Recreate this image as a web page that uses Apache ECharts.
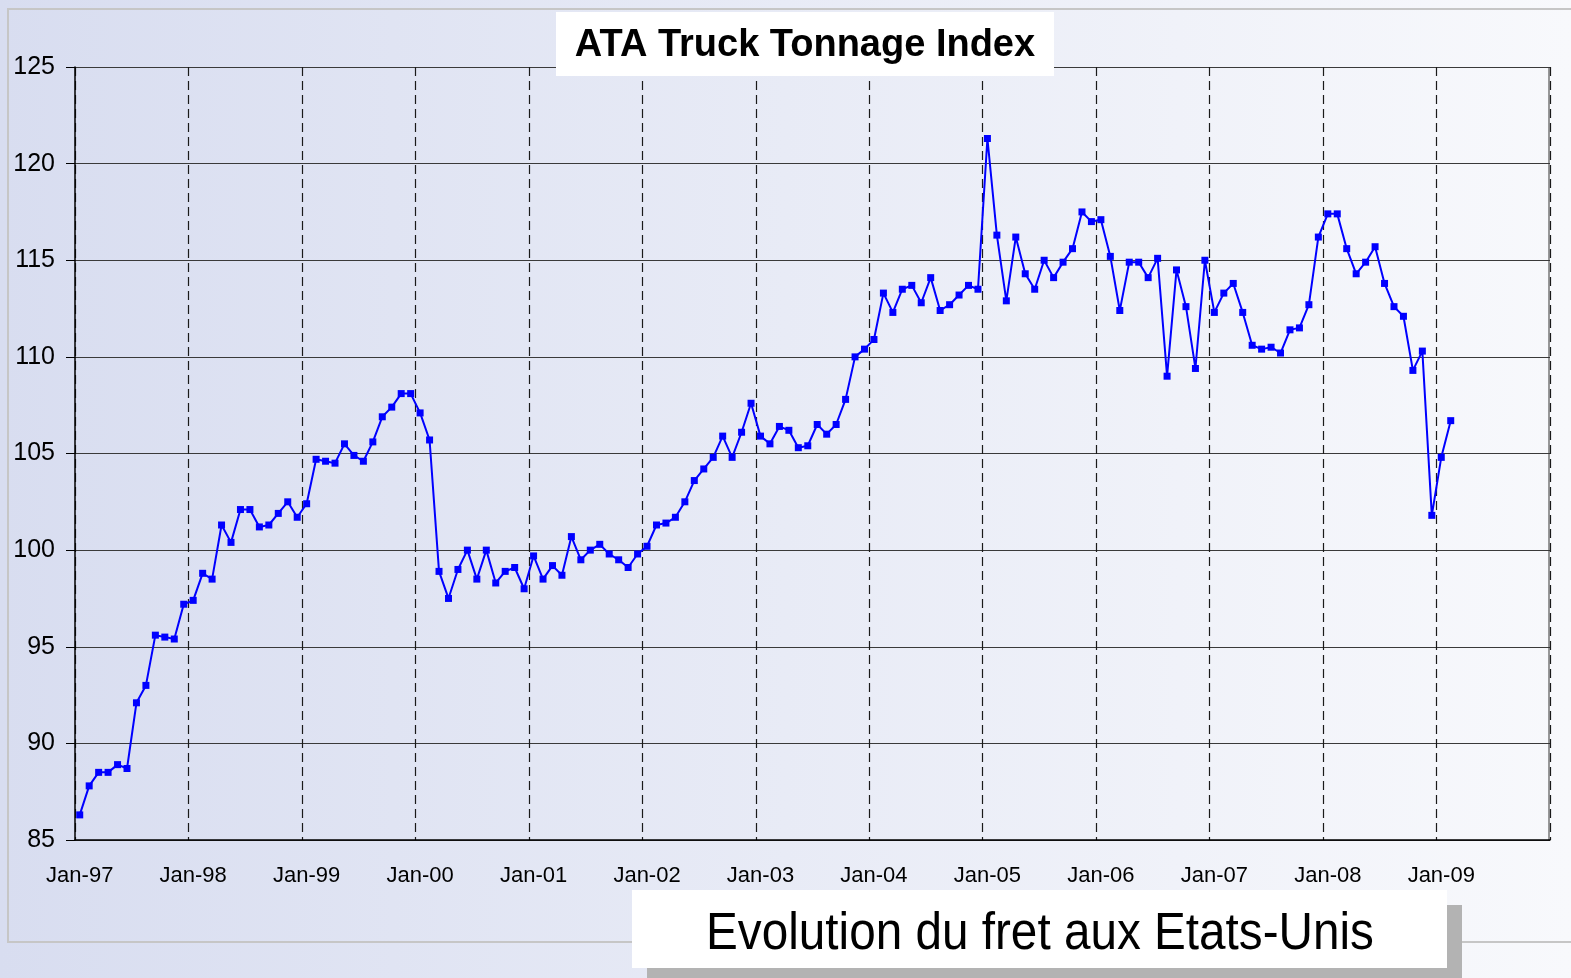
<!DOCTYPE html>
<html>
<head>
<meta charset="utf-8">
<title>ATA Truck Tonnage Index</title>
<script src="https://cdn.jsdelivr.net/npm/echarts@6/dist/echarts.min.js"></script>
<style>
  html, body { margin: 0; padding: 0; }
  #chart { width: 1571px; height: 978px; }
</style>
</head>
<body>
<div id="chart"></div>
<script>
// years shown on the axis, monthly categories built from them
const years = ['97', '98', '99', '00', '01', '02', '03', '04', '05', '06', '07', '08', '09']
const months = ['Jan', 'Feb', 'Mar', 'Apr', 'May', 'Jun', 'Jul', 'Aug', 'Sep', 'Oct', 'Nov', 'Dec']

// monthly index values, Jan-97 .. Feb-09
const tonnage = [
  86.3, 87.8, 88.5, 88.5, 88.9, 88.7, 92.1, 93.0, 95.6, 95.5, 95.4, 97.2,
  97.4, 98.8, 98.5, 101.3, 100.4, 102.1, 102.1, 101.2, 101.3, 101.9, 102.5, 101.7,
  102.4, 104.7, 104.6, 104.5, 105.5, 104.9, 104.6, 105.6, 106.9, 107.4, 108.1, 108.1,
  107.1, 105.7, 98.9, 97.5, 99.0, 100.0, 98.5, 100.0, 98.3, 98.9, 99.1, 98.0,
  99.7, 98.5, 99.2, 98.7, 100.7, 99.5, 100.0, 100.3, 99.8, 99.5, 99.1, 99.8,
  100.2, 101.3, 101.4, 101.7, 102.5, 103.6, 104.2, 104.8, 105.9, 104.8, 106.1, 107.6,
  105.9, 105.5, 106.4, 106.2, 105.3, 105.4, 106.5, 106.0, 106.5, 107.8, 110.0, 110.4,
  110.9, 113.3, 112.3, 113.5, 113.7, 112.8, 114.1, 112.4, 112.7, 113.2, 113.7, 113.5,
  121.3, 116.3, 112.9, 116.2, 114.3, 113.5, 115.0, 114.1, 114.9, 115.6, 117.5, 117.0,
  117.1, 115.2, 112.4, 114.9, 114.9, 114.1, 115.1, 109.0, 114.5, 112.6, 109.4, 115.0,
  112.3, 113.3, 113.8, 112.3, 110.6, 110.4, 110.5, 110.2, 111.4, 111.5, 112.7, 116.2,
  117.4, 117.4, 115.6, 114.3, 114.9, 115.7, 113.8, 112.6, 112.1, 109.3, 110.3, 101.8,
  104.8, 106.7,
]

const title = 'ATA Truck Tonnage Index'
const subtitle = 'Evolution du fret aux Etats-Unis'

const categories = []
years.forEach((y) => months.forEach((m) => categories.push(m + '-' + y)))

const font = '"Liberation Sans", Arial, sans-serif'
const chart = echarts.init(document.getElementById('chart'))

chart.setOption({
  animation: false,
  backgroundColor: new echarts.graphic.LinearGradient(0, 0, 1, 0, [
    { offset: 0, color: '#d8ddf0' },
    { offset: 1, color: '#f8f9fc' },
  ]),
  grid: { left: 75, right: 21, top: 67, bottom: 138, show: false },
  xAxis: {
    type: 'category',
    data: categories,
    boundaryGap: true,
    axisLine: { lineStyle: { color: '#000', width: 1.5 } },
    axisTick: { interval: 11, length: 7, lineStyle: { color: '#000' } },
    axisLabel: {
      interval: 11,
      margin: 25,
      color: '#000',
      fontSize: 22,
      fontFamily: font,
    },
    splitLine: {
      show: true,
      interval: 11,
      lineStyle: { color: '#1a1a1a', type: [9, 5], width: 1.2 },
    },
  },
  yAxis: {
    type: 'value',
    min: 85,
    max: 125,
    interval: 5,
    axisLine: { show: true, lineStyle: { color: '#000', width: 1.5 } },
    axisTick: { show: true, length: 9, lineStyle: { color: '#000' } },
    axisLabel: { margin: 20, color: '#000', fontSize: 25, fontFamily: font },
    splitLine: { lineStyle: { color: '#3a3a3a', width: 1.2 } },
  },
  series: [
    {
      type: 'line',
      data: tonnage,
      symbol: 'rect',
      symbolSize: 7,
      showSymbol: true,
      showAllSymbol: true,
      lineStyle: { color: '#0000ff', width: 2 },
      itemStyle: { color: '#0000ff' },
      z: 5,
    },
  ],
  graphic: [
    {
      type: 'rect',
      shape: { x: 8, y: 9, width: 1700, height: 933 },
      style: { fill: 'none', stroke: '#c6c6c6', lineWidth: 2 },
      silent: true,
      z: -1,
    },
    {
      type: 'rect',
      shape: { x: 1549, y: 67, width: 0, height: 773 },
      style: { stroke: '#777', lineWidth: 1.5 },
      silent: true,
    },
    {
      type: 'rect',
      shape: { x: 556, y: 12, width: 498, height: 64 },
      style: { fill: '#fff' },
      z: 10,
    },
    {
      type: 'text',
      x: 805,
      y: 46,
      z: 11,
      style: {
        text: title,
        fill: '#000',
        font: 'bold 38px ' + font,
        textAlign: 'center',
        textVerticalAlign: 'middle',
      },
    },
    {
      type: 'rect',
      shape: { x: 647, y: 905, width: 815, height: 80 },
      style: { fill: '#b3b3b3' },
      z: 10,
    },
    {
      type: 'rect',
      shape: { x: 632, y: 890, width: 815, height: 78 },
      style: { fill: '#fff' },
      z: 11,
    },
    {
      type: 'text',
      x: 1040,
      y: 935,
      z: 12,
      scaleX: 0.935,
      style: {
        text: subtitle,
        fill: '#000',
        font: '51px ' + font,
        textAlign: 'center',
        textVerticalAlign: 'middle',
        textShadowColor: 'rgba(0,0,0,0.25)',
        textShadowOffsetX: 1.5,
        textShadowOffsetY: 1.5,
      },
    },
  ],
})

window.addEventListener('resize', () => chart.resize())
</script>
</body>
</html>
